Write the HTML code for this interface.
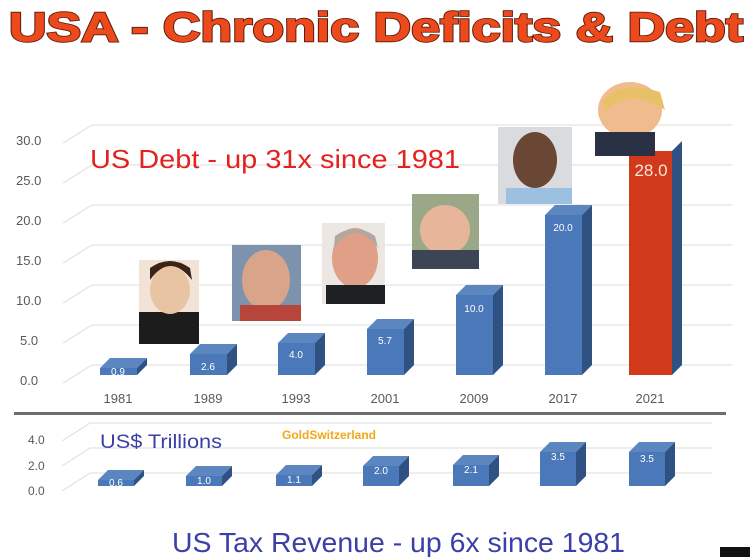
<!DOCTYPE html>
<html><head><meta charset="utf-8"><style>
html,body{margin:0;padding:0;background:#fff;}
svg{display:block;font-family:"Liberation Sans",sans-serif;}
</style></head><body>
<svg width="750" height="557" viewBox="0 0 750 557" xmlns="http://www.w3.org/2000/svg">
<rect width="750" height="557" fill="#fff"/>
<text x="376" y="41" text-anchor="middle" font-size="41" font-weight="bold" fill="#ec4a1c" stroke="#5a1a08" stroke-width="2.4" paint-order="stroke" textLength="734" lengthAdjust="spacingAndGlyphs">USA - Chronic Deficits &amp; Debt</text>
<text x="376" y="41" text-anchor="middle" font-size="41" font-weight="bold" fill="#ec4a1c" stroke="#ec4a1c" stroke-width="0.8" textLength="734" lengthAdjust="spacingAndGlyphs">USA - Chronic Deficits &amp; Debt</text>
<!-- main grid -->
<g stroke="#e3e3e3" stroke-width="1.2" fill="none">
<path d="M63,383 L92,365 L732,365"/><path d="M63,343 L92,325 L732,325"/><path d="M63,303 L92,285 L732,285"/>
<path d="M63,263 L92,245 L732,245"/><path d="M63,223 L92,205 L732,205"/><path d="M63,183 L92,165 L732,165"/><path d="M63,143 L92,125 L732,125"/>
</g>
<g font-size="13" fill="#595959">
<text x="20" y="385">0.0</text><text x="20" y="345">5.0</text><text x="16" y="305">10.0</text><text x="16" y="265">15.0</text>
<text x="16" y="225">20.0</text><text x="16" y="185">25.0</text><text x="16" y="145">30.0</text>
</g>
<g font-size="13" fill="#595959" text-anchor="middle">
<text x="118" y="403">1981</text><text x="208" y="403">1989</text><text x="296" y="403">1993</text><text x="385" y="403">2001</text>
<text x="474" y="403">2009</text><text x="563" y="403">2017</text><text x="650" y="403">2021</text>
</g>
<g>
<polygon points="100,368 110,358 147,358 137,368" fill="#5b86c0"/><polygon points="137,368 147,358 147,365 137,375" fill="#2f5283"/><rect x="100" y="368" width="37" height="7" fill="#4a78b8"/>
<polygon points="190,354 200,344 237,344 227,354" fill="#5b86c0"/><polygon points="227,354 237,344 237,365 227,375" fill="#2f5283"/><rect x="190" y="354" width="37" height="21" fill="#4a78b8"/>
<polygon points="278,343 288,333 325,333 315,343" fill="#5b86c0"/><polygon points="315,343 325,333 325,365 315,375" fill="#2f5283"/><rect x="278" y="343" width="37" height="32" fill="#4a78b8"/>
<polygon points="367,329 377,319 414,319 404,329" fill="#5b86c0"/><polygon points="404,329 414,319 414,365 404,375" fill="#2f5283"/><rect x="367" y="329" width="37" height="46" fill="#4a78b8"/>
<polygon points="456,295 466,285 503,285 493,295" fill="#5b86c0"/><polygon points="493,295 503,285 503,365 493,375" fill="#2f5283"/><rect x="456" y="295" width="37" height="80" fill="#4a78b8"/>
<polygon points="545,215 555,205 592,205 582,215" fill="#5b86c0"/><polygon points="582,215 592,205 592,365 582,375" fill="#2f5283"/><rect x="545" y="215" width="37" height="160" fill="#4a78b8"/>
<polygon points="672,151 682,141 682,365 672,375" fill="#2f5283"/><rect x="629" y="151" width="43" height="224" fill="#d03a1a"/>
</g>
<g font-size="10" fill="#fff" text-anchor="middle">
<text x="118" y="375">0.9</text><text x="208" y="370">2.6</text><text x="296" y="358">4.0</text><text x="385" y="344">5.7</text>
<text x="474" y="312">10.0</text><text x="563" y="231">20.0</text>
</g>
<text x="651" y="176" font-size="17" fill="#fbe4d8" text-anchor="middle">28.0</text>
<!-- portraits -->
<rect x="139" y="260" width="60" height="84" fill="#f1e3d6"/><rect x="139" y="312" width="60" height="32" fill="#1c1c1c"/><ellipse cx="170" cy="290" rx="20" ry="24" fill="#e9c4a3"/><path d="M150,280 Q170,252 192,280 L190,268 Q170,254 150,268Z" fill="#3a2418"/>
<rect x="232" y="245" width="69" height="76" fill="#7d93ad"/><ellipse cx="266" cy="280" rx="24" ry="30" fill="#d9a58a"/><rect x="240" y="305" width="61" height="16" fill="#b8453c"/>
<rect x="322" y="223" width="63" height="81" fill="#ece7e2"/><ellipse cx="355" cy="258" rx="23" ry="30" fill="#e0a087"/><rect x="326" y="285" width="59" height="19" fill="#1e2022"/><path d="M334,248 Q355,218 378,248 L375,236 Q355,222 335,236Z" fill="#b0a7a1"/>
<rect x="412" y="194" width="67" height="75" fill="#9aa888"/><ellipse cx="445" cy="230" rx="25" ry="25" fill="#e7b59a"/><rect x="412" y="250" width="67" height="19" fill="#3d4456"/>
<rect x="498" y="127" width="74" height="77" fill="#d9dbde"/><ellipse cx="535" cy="160" rx="22" ry="28" fill="#6a4634"/><rect x="506" y="188" width="66" height="16" fill="#9cc0e0"/>
<ellipse cx="630" cy="110" rx="32" ry="28" fill="#f0bc8e"/><path d="M603,100 Q620,80 660,92 L665,110 Q630,86 605,112Z" fill="#e8c068"/><rect x="595" y="132" width="60" height="24" fill="#2a3145"/>
<text x="90" y="168" font-size="26" fill="#e3221f" textLength="370" lengthAdjust="spacingAndGlyphs">US Debt  -  up 31x since 1981</text>
<rect x="14" y="412" width="712" height="3" fill="#6e6e6e"/>
<g stroke="#e3e3e3" stroke-width="1.2" fill="none">
<path d="M62,491 L90,473 L712,473"/><path d="M62,466 L90,448 L712,448"/><path d="M62,441 L90,423 L712,423"/>
</g>
<g font-size="12" fill="#595959">
<text x="28" y="495">0.0</text><text x="28" y="470">2.0</text><text x="28" y="444">4.0</text>
</g>
<g>
<polygon points="98,480 108,470 144,470 134,480" fill="#5b86c0"/><polygon points="134,480 144,470 144,476 134,486" fill="#2f5283"/><rect x="98" y="480" width="36" height="6" fill="#4a78b8"/>
<polygon points="186,476 196,466 232,466 222,476" fill="#5b86c0"/><polygon points="222,476 232,466 232,476 222,486" fill="#2f5283"/><rect x="186" y="476" width="36" height="10" fill="#4a78b8"/>
<polygon points="276,475 286,465 322,465 312,475" fill="#5b86c0"/><polygon points="312,475 322,465 322,476 312,486" fill="#2f5283"/><rect x="276" y="475" width="36" height="11" fill="#4a78b8"/>
<polygon points="363,466 373,456 409,456 399,466" fill="#5b86c0"/><polygon points="399,466 409,456 409,476 399,486" fill="#2f5283"/><rect x="363" y="466" width="36" height="20" fill="#4a78b8"/>
<polygon points="453,465 463,455 499,455 489,465" fill="#5b86c0"/><polygon points="489,465 499,455 499,476 489,486" fill="#2f5283"/><rect x="453" y="465" width="36" height="21" fill="#4a78b8"/>
<polygon points="540,452 550,442 586,442 576,452" fill="#5b86c0"/><polygon points="576,452 586,442 586,476 576,486" fill="#2f5283"/><rect x="540" y="452" width="36" height="34" fill="#4a78b8"/>
<polygon points="629,452 639,442 675,442 665,452" fill="#5b86c0"/><polygon points="665,452 675,442 675,476 665,486" fill="#2f5283"/><rect x="629" y="452" width="36" height="34" fill="#4a78b8"/>
</g>
<g font-size="10" fill="#fff" text-anchor="middle">
<text x="116" y="486">0.6</text><text x="204" y="484">1.0</text><text x="294" y="483">1.1</text><text x="381" y="474">2.0</text>
<text x="471" y="473">2.1</text><text x="558" y="460">3.5</text><text x="647" y="462">3.5</text>
</g>
<text x="100" y="448" font-size="19" fill="#3b3fa8" textLength="122" lengthAdjust="spacingAndGlyphs">US$ Trillions</text>
<text x="282" y="439" font-size="12" font-weight="bold" fill="#f0a818">GoldSwitzerland</text>
<text x="172" y="552" font-size="28" fill="#3b3fa8" textLength="453" lengthAdjust="spacingAndGlyphs">US Tax Revenue  - up 6x since 1981</text>
<rect x="720" y="547" width="30" height="10" fill="#111"/>
</svg>
</body></html>
